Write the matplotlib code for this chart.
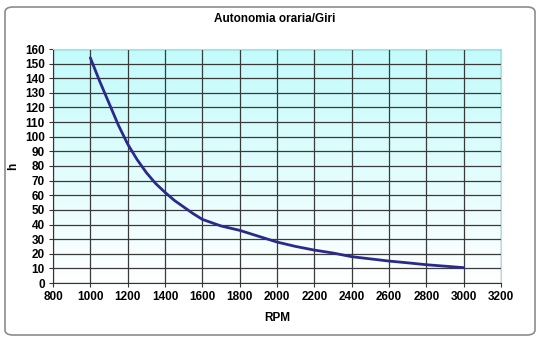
import numpy as np
import matplotlib
matplotlib.use("Agg")
import matplotlib.pyplot as plt
from matplotlib.patches import FancyBboxPatch

# dati
rpm = [1000, 1050, 1100, 1150, 1200, 1250, 1300, 1350, 1400, 1450, 1500, 1550,
       1600, 1700, 1800, 1900, 2000, 2100, 2200, 2300, 2400, 2500, 2600,
       2700, 2800, 2900, 3000]
ore = [154, 138, 123, 108, 95, 84.5, 75.5, 68, 62, 56.5, 52, 47.5,
       43.5, 39, 36, 32, 28, 25, 22.5, 20.5, 18, 16.5, 15,
       13.8, 12.5, 11.5, 10.5]

x_ticks = list(range(800, 3201, 200))
y_ticks = list(range(0, 161, 10))

plt.rcParams['font.family'] = ['Liberation Sans', 'DejaVu Sans']

fig = plt.figure(figsize=(5.41, 3.40), dpi=100)
ax = fig.add_axes([53 / 541, 1 - 283 / 340, 448 / 541, 234 / 340])

# cornice arrotondata
cornice = FancyBboxPatch((5 / 541, 5 / 340), 530 / 541, 328 / 340,
                         boxstyle="round,pad=0,rounding_size=0.015",
                         transform=fig.transFigure, facecolor='white',
                         edgecolor='#8c8c8c', linewidth=1.2, zorder=-10)
fig.patches.append(cornice)

# sfondo sfumato (ciano in alto, bianco in basso)
grad = np.linspace(0, 1, 256).reshape(-1, 1)
cmap = matplotlib.colors.LinearSegmentedColormap.from_list('sf', ['#c2fbfb', '#ffffff'])
ax.imshow(grad, aspect='auto', cmap=cmap, extent=[800, 3200, 0, 160],
          origin='upper', zorder=0)

ax.plot(rpm, ore, color='#2a2a8c', linewidth=2, zorder=3,
        solid_capstyle='round', solid_joinstyle='round')

ax.set_xlim(800, 3200)
ax.set_ylim(0, 160)
ax.set_xticks(x_ticks)
ax.set_yticks(y_ticks)
ax.grid(True, color='#3a3a3a', linewidth=0.9)
for l in ax.get_xgridlines() + ax.get_ygridlines():
    l.set_zorder(1)

ax.tick_params(labelsize=8.5, length=3, width=0.8, color='#333333', pad=3)
for t in ax.get_xticklabels() + ax.get_yticklabels():
    t.set_fontweight('bold')

ax.spines['top'].set_color('#66ffff')
ax.spines['right'].set_color('#66ffff')
ax.spines['left'].set_color('#333333')
ax.spines['bottom'].set_color('#333333')

ax.set_xlabel('RPM', fontsize=8.5, fontweight='bold', labelpad=6)
ax.set_ylabel('h', fontsize=8.5, fontweight='bold', labelpad=4)
fig.text(275 / 541, 1 - 19 / 340, 'Autonomia oraria/Giri', ha='center', va='center',
         fontsize=8.5, fontweight='bold')

fig.savefig('out.png', dpi=100)
